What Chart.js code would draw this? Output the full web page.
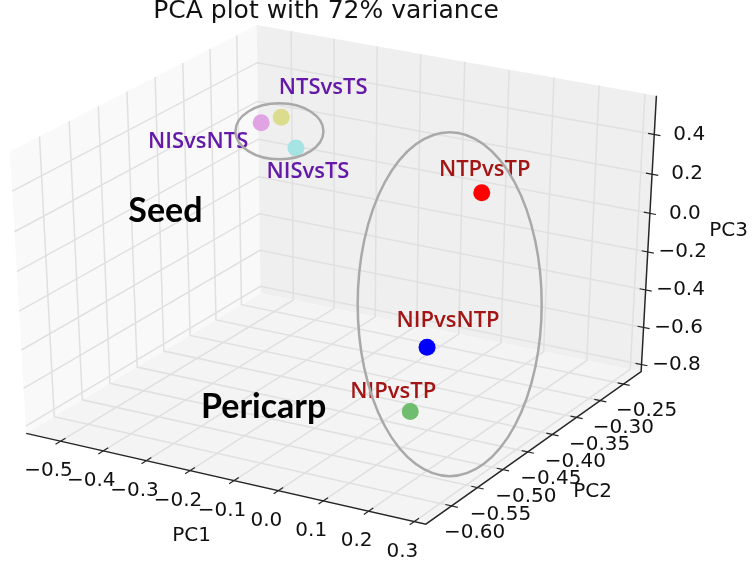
<!DOCTYPE html>
<html>
<head>
<meta charset="utf-8">
<title>PCA plot with 72% variance</title>
<script src="https://cdn.jsdelivr.net/npm/chart.js@4.4.1/dist/chart.umd.min.js"></script>
<style>
  html, body { margin: 0; padding: 0; background: #fff; }
  #wrap { width: 756px; height: 571px; position: relative; }
</style>
</head>
<body>
<div id="wrap"><canvas id="pca"></canvas></div>
<script>
// ---- data (PC scores) ----
const samples = ["NISvsNTS", "NTSvsTS", "NISvsTS", "NTPvsTP", "NIPvsNTP", "NIPvsTP"];
const tissue = ["Seed", "Seed", "Seed", "Pericarp", "Pericarp", "Pericarp"];
const pc1 = [-0.540, -0.471, -0.427, 0.264, 0.284, 0.053];
const pc2 = [-0.239, -0.256, -0.264, -0.501, -0.616, -0.444];
const pc3 = [0.144, 0.225, 0.096, 0.528, -0.025, -0.774];

const pc1Ticks = [-0.5, -0.4, -0.3, -0.2, -0.1, 0.0, 0.1, 0.2, 0.3];
const pc2Ticks = [-0.60, -0.55, -0.50, -0.45, -0.40, -0.35, -0.30, -0.25];
const pc3Ticks = [-0.8, -0.6, -0.4, -0.2, 0.0, 0.2, 0.4];
const pc1Lim = [-0.581, 0.325];
const pc2Lim = [-0.649, -0.212];
const pc3Lim = [-0.839, 0.593];

// ---- styles ----
const pointColors = ["#e0a3e3", "#dcdc8f", "#a6e3e3", "#ff0000", "#0000ff", "#6fbd6f"];
const groupText = { Seed: "#6419a8", Pericarp: "#a31515" };
const labelOffsets = [[-63, 19], [42, -30], [12, 24], [3, -23], [21, -26], [-17, -20]];

// ---- old mplot3d style perspective projection ----
const VIEW = { elev: 30, azim: -60, dist: 10 };
const el = VIEW.elev * Math.PI / 180, az = VIEW.azim * Math.PI / 180;
const N = [Math.cos(az) * Math.cos(el), Math.sin(az) * Math.cos(el), Math.sin(el)];
const U = [-Math.sin(az), Math.cos(az), 0];
const V = [N[1] * U[2] - N[2] * U[1], N[2] * U[0] - N[0] * U[2], N[0] * U[1] - N[1] * U[0]];
const dot = (a, b) => a[0] * b[0] + a[1] * b[1] + a[2] * b[2];

function project(a, b, c) {
  const d = [a - 0.5, b - 0.5, c - 0.5];
  const w = VIEW.dist - dot(d, N);
  return { x: dot(d, U) / w, y: dot(d, V) / w };
}
const nrm = (v, lim) => (v - lim[0]) / (lim[1] - lim[0]);
const proj3 = (x, y, z) => project(nrm(x, pc1Lim), nrm(y, pc2Lim), nrm(z, pc3Lim));

const fmt = (v, dp) => v.toFixed(dp).replace("-", "\u2212");

function px(chart, p) {
  return [chart.scales.x.getPixelForValue(p.x), chart.scales.y.getPixelForValue(p.y)];
}

function polyline(chart, ctx, pts) {
  ctx.beginPath();
  pts.forEach((q, i) => {
    const [X, Y] = px(chart, project(q[0], q[1], q[2]));
    if (i === 0) ctx.moveTo(X, Y); else ctx.lineTo(X, Y);
  });
}

function text(ctx, str, x, y, font, color, align) {
  ctx.font = font;
  ctx.fillStyle = color;
  ctx.textAlign = align || "center";
  ctx.textBaseline = "middle";
  ctx.fillText(str, x, y);
}

const box3d = {
  id: "box3d",
  beforeDatasetsDraw(chart) {
    const ctx = chart.ctx;
    ctx.save();
    // panes
    const panes = [
      { c: [[0, 0, 0], [0, 1, 0], [0, 1, 1], [0, 0, 1]], fill: "#f9f9f9" },
      { c: [[0, 1, 0], [1, 1, 0], [1, 1, 1], [0, 1, 1]], fill: "#efefef" },
      { c: [[0, 0, 0], [1, 0, 0], [1, 1, 0], [0, 1, 0]], fill: "#f4f4f4" },
    ];
    panes.forEach((p) => {
      polyline(chart, ctx, p.c);
      ctx.closePath();
      ctx.fillStyle = p.fill;
      ctx.fill();
    });
    // grid
    ctx.strokeStyle = "#e0e0e0";
    ctx.lineWidth = 1.5;
    pc1Ticks.forEach((t) => {
      const a = nrm(t, pc1Lim);
      polyline(chart, ctx, [[a, 0, 0], [a, 1, 0], [a, 1, 1]]);
      ctx.stroke();
    });
    pc2Ticks.forEach((t) => {
      const b = nrm(t, pc2Lim);
      polyline(chart, ctx, [[1, b, 0], [0, b, 0], [0, b, 1]]);
      ctx.stroke();
    });
    pc3Ticks.forEach((t) => {
      const c = nrm(t, pc3Lim);
      polyline(chart, ctx, [[0, 0, c], [0, 1, c], [1, 1, c]]);
      ctx.stroke();
    });
    // axis lines
    ctx.strokeStyle = "#262626";
    ctx.lineWidth = 1.5;
    polyline(chart, ctx, [[0, 0, 0], [1, 0, 0], [1, 1, 0], [1, 1, 1]]);
    ctx.stroke();
    // ticks + labels
    ctx.lineWidth = 1.2;
    const tickFont = "20px 'DejaVu Sans'";
    pc1Ticks.forEach((t) => {
      const a = nrm(t, pc1Lim);
      polyline(chart, ctx, [[a, -0.02, 0], [a, 0.02, 0]]);
      ctx.stroke();
      const [X, Y] = px(chart, project(a, 0, 0));
      text(ctx, fmt(t, 1), X - 12, Y + 30, tickFont, "#111");
    });
    pc2Ticks.forEach((t) => {
      const b = nrm(t, pc2Lim);
      polyline(chart, ctx, [[0.985, b, 0], [1.015, b, 0]]);
      ctx.stroke();
      const [X, Y] = px(chart, project(1, b, 0));
      text(ctx, fmt(t, 2), X + 23, Y + 27, tickFont, "#111");
    });
    pc3Ticks.forEach((t) => {
      const c = nrm(t, pc3Lim);
      polyline(chart, ctx, [[0.985, 1, c], [1.015, 1, c]]);
      ctx.stroke();
      const [X, Y] = px(chart, project(1, 1, c));
      text(ctx, fmt(t, 1), X + 35, Y, tickFont, "#111");
    });
    // axis titles
    let m = px(chart, project(0.5, 0, 0));
    text(ctx, "PC1", m[0] - 30, m[1] + 58, tickFont, "#111");
    m = px(chart, project(1, 0.5, 0));
    text(ctx, "PC2", m[0] + 55, m[1] + 47, tickFont, "#111");
    m = px(chart, project(1, 1, 0.5));
    text(ctx, "PC3", m[0] + 80, m[1] - 6, tickFont, "#111");
    ctx.restore();
  },
  afterDatasetsDraw(chart) {
    const ctx = chart.ctx;
    const meta = chart.getDatasetMeta(0);
    ctx.save();
    // sample labels
    samples.forEach((s, i) => {
      const el = meta.data[i];
      text(ctx, s, el.x + labelOffsets[i][0], el.y + labelOffsets[i][1],
        "600 22px 'Open Sans'", groupText[tissue[i]]);
    });
    // group ellipses + names
    const groups = {
      Seed: { dc: [0, 2], r: [44, 28], lab: [-114, 82] },
      Pericarp: { dc: [10, -13], r: [92, 172], lab: [-176, 90] },
    };
    Object.keys(groups).forEach((g) => {
      const idx = tissue.map((t, i) => (t === g ? i : -1)).filter((i) => i >= 0);
      const cx = idx.reduce((s, i) => s + meta.data[i].x, 0) / idx.length;
      const cy = idx.reduce((s, i) => s + meta.data[i].y, 0) / idx.length;
      const o = groups[g];
      ctx.beginPath();
      ctx.ellipse(cx + o.dc[0], cy + o.dc[1], o.r[0], o.r[1], 0, 0, Math.PI * 2);
      ctx.strokeStyle = "#a9a9a9";
      ctx.lineWidth = 2.5;
      ctx.stroke();
      text(ctx, g, cx + o.lab[0], cy + o.lab[1], "bold 34px Lato", "#000");
    });
    text(ctx, "PCA plot with 72% variance", 326, 11, "25px 'DejaVu Sans'", "#111");
    ctx.restore();
  },
};

const points = samples.map((s, i) => proj3(pc1[i], pc2[i], pc3[i]));

new Chart(document.getElementById("pca"), {
  type: "scatter",
  data: {
    datasets: [{
      label: "PCA",
      data: points,
      pointBackgroundColor: pointColors,
      pointBorderWidth: 0,
      pointRadius: 8.5,
      clip: false,
    }],
  },
  options: {
    responsive: true,
    maintainAspectRatio: false,
    animation: false,
    layout: { padding: 0 },
    plugins: { legend: { display: false }, tooltip: { enabled: false } },
    scales: {
      x: { type: "linear", min: -0.07152, max: 0.08868, display: false },
      y: { type: "linear", min: -0.09210, max: 0.08004, display: false },
    },
  },
  plugins: [box3d],
});
</script>
</body>
</html>
